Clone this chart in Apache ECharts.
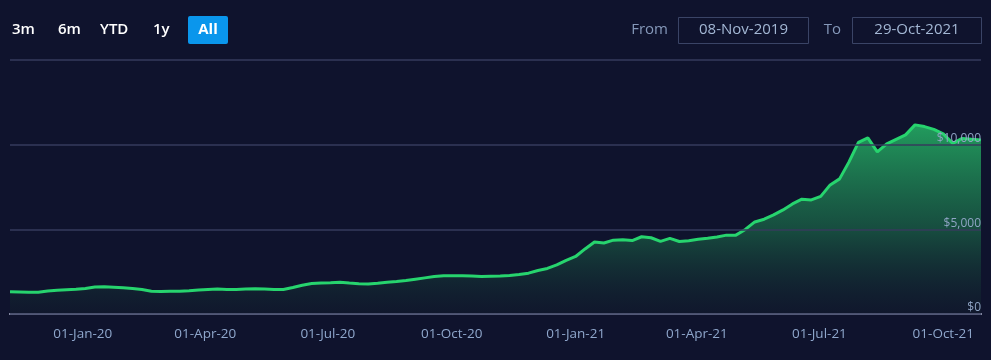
<!DOCTYPE html>
<html>
<head>
<meta charset="utf-8">
<script src="https://cdn.jsdelivr.net/npm/echarts@6/dist/echarts.min.js"></script>
<style>
html,body{margin:0;padding:0;background:#0f132d;}
#chart{width:991px;height:360px;}
</style>
</head>
<body>
<div id="chart"></div>
<script>
const dates = [
'2019-11-08','2019-11-15','2019-11-22','2019-11-29','2019-12-06','2019-12-13','2019-12-20','2019-12-27',
'2020-01-03','2020-01-10','2020-01-17','2020-01-24','2020-01-31','2020-02-07','2020-02-14','2020-02-21','2020-02-28',
'2020-03-06','2020-03-13','2020-03-20','2020-03-27','2020-04-03','2020-04-10','2020-04-17','2020-04-24',
'2020-05-01','2020-05-08','2020-05-15','2020-05-22','2020-05-29','2020-06-05','2020-06-12','2020-06-19','2020-06-26',
'2020-07-03','2020-07-10','2020-07-17','2020-07-24','2020-07-31','2020-08-07','2020-08-14','2020-08-21','2020-08-28',
'2020-09-04','2020-09-11','2020-09-18','2020-09-25','2020-10-02','2020-10-09','2020-10-16','2020-10-23','2020-10-30',
'2020-11-06','2020-11-13','2020-11-20','2020-11-27','2020-12-04','2020-12-11','2020-12-18','2020-12-25',
'2021-01-01','2021-01-08','2021-01-15','2021-01-22','2021-01-29','2021-02-05','2021-02-12','2021-02-19','2021-02-26',
'2021-03-05','2021-03-12','2021-03-19','2021-03-26','2021-04-02','2021-04-09','2021-04-16','2021-04-23','2021-04-30',
'2021-05-07','2021-05-14','2021-05-21','2021-05-28','2021-06-04','2021-06-11','2021-06-18','2021-06-25',
'2021-07-02','2021-07-09','2021-07-16','2021-07-23','2021-07-30','2021-08-06','2021-08-13','2021-08-20','2021-08-27',
'2021-09-03','2021-09-10','2021-09-17','2021-09-24','2021-10-01','2021-10-08','2021-10-15','2021-10-22','2021-10-29'
];
const values = [
1318,1300,1282,1282,1359,1407,1436,1460,
1507,1596,1607,1584,1548,1507,1448,1342,1324,
1342,1348,1377,1418,1454,1472,1454,1454,
1478,1489,1478,1454,1442,1566,1696,1802,1832,
1850,1873,1826,1791,1773,1820,1873,1915,1974,
2057,2134,2210,2263,2258,2252,2246,2216,2228,
2240,2269,2334,2411,2571,2689,2896,3162,
3398,3842,4255,4196,4362,4385,4338,4562,4503,
4285,4462,4279,4332,4415,4480,4551,4657,4657,
4994,5437,5597,5851,6146,6501,6779,6737,
6944,7624,7979,8983,10135,10402,9574,10047,10313,
10579,11170,11069,10904,10638,10077,10372,10313,10283
];
const xTicks = ['2020-01-01','2020-04-01','2020-07-01','2020-10-01','2021-01-01','2021-04-01','2021-07-01','2021-10-01'];
const yMax = 15000, yStep = 5000;
const rangeButtons = ['3m','6m','YTD','1y','All'];
const fromLabel = 'From', toLabel = 'To';
const fromDate = '08-Nov-2019', toDate = '29-Oct-2021';

const MONTHS = ['Jan','Feb','Mar','Apr','May','Jun','Jul','Aug','Sep','Oct','Nov','Dec'];
function fmtDate(ts){
  const d = new Date(ts);
  const dd = String(d.getUTCDate()).padStart(2,'0');
  return dd + '-' + MONTHS[d.getUTCMonth()] + '-' + String(d.getUTCFullYear()).slice(2);
}
const toTs = s => Date.parse(s + 'T00:00:00Z');

const chart = echarts.init(document.getElementById('chart'));
const FONT = '"Open Sans", sans-serif';

const btnX = [12, 58, 100, 153, 188];
const graphics = [];
rangeButtons.forEach((b, i) => {
  if (b === 'All') {
    graphics.push({type:'rect', left:188, top:16, shape:{width:40, height:28, r:2}, style:{fill:'#0a96ec'}});
    graphics.push({type:'text', x:208, y:30, style:{text:b, fill:'#ffffff', font:'bold 15px ' + FONT, align:'center', verticalAlign:'middle'}});
  } else {
    graphics.push({type:'text', x:btnX[i], y:30, style:{text:b, fill:'#ffffff', font:'600 15px ' + FONT, align:'left', verticalAlign:'middle'}});
  }
});
graphics.push({type:'text', x:668, y:30, style:{text:fromLabel, fill:'#8598b9', font:'15px ' + FONT, align:'right', verticalAlign:'middle'}});
graphics.push({type:'rect', shape:{x:678.5, y:17.5, width:130, height:26}, style:{fill:'none', stroke:'#3a4466', lineWidth:1}});
graphics.push({type:'text', x:743.5, y:30, style:{text:fromDate, fill:'#a3b7d4', font:'15px ' + FONT, align:'center', verticalAlign:'middle'}});
graphics.push({type:'text', x:841, y:30, style:{text:toLabel, fill:'#8598b9', font:'15px ' + FONT, align:'right', verticalAlign:'middle'}});
graphics.push({type:'rect', shape:{x:852.5, y:17.5, width:129, height:26}, style:{fill:'none', stroke:'#3a4466', lineWidth:1}});
graphics.push({type:'text', x:917, y:30, style:{text:toDate, fill:'#a3b7d4', font:'15px ' + FONT, align:'center', verticalAlign:'middle'}});

chart.setOption({
  backgroundColor: '#0f132d',
  animation: false,
  grid: {left:10, right:10, top:60, bottom:46, containLabel:false},
  xAxis: {
    type: 'value',
    min: toTs(dates[0]),
    max: toTs(dates[dates.length-1]),
    axisLine: {show:true, onZero:false, lineStyle:{color:'#a9aec6', width:2}},
    axisTick: {show:false, customValues: xTicks.map(toTs)},
    splitLine: {show:false},
    axisLabel: {
      customValues: xTicks.map(toTs),
      formatter: v => fmtDate(v),
      color: '#8fa7cc',
      fontSize: 13.5,
      fontFamily: FONT,
      margin: 13
    }
  },
  yAxis: {
    type: 'value',
    position: 'right',
    min: 0,
    max: yMax,
    interval: yStep,
    axisLine: {show:false},
    axisTick: {show:false},
    splitLine: {show:true, lineStyle:{color:'#363b5c', width:1.5}},
    axisLabel: {
      inside: true,
      showMaxLabel: false,
      formatter: v => v === yMax ? '' : '$' + v.toLocaleString('en-US'),
      color: '#8fa4c4',
      fontSize: 12,
      lineHeight: 12,
      fontFamily: FONT,
      align: 'right',
      verticalAlign: 'bottom',
      margin: 0,
      padding: 0
    },
    z: 5
  },
  graphic: graphics,
  series: [{
    type: 'line',
    data: dates.map((d, i) => [toTs(d), values[i]]),
    showSymbol: false,
    symbol: 'none',
    smooth: false,
    lineStyle: {color:'#27d46e', width:3},
    areaStyle: {
      color: new echarts.graphic.LinearGradient(0, 0, 0, 1, [
        {offset:0, color:'rgba(42,214,114,1)'},
        {offset:0.55, color:'rgba(30,130,80,0.75)'},
        {offset:1, color:'rgba(20,40,45,0.3)'}
      ])
    },
    z: 2
  }]
});
</script>
</body>
</html>
